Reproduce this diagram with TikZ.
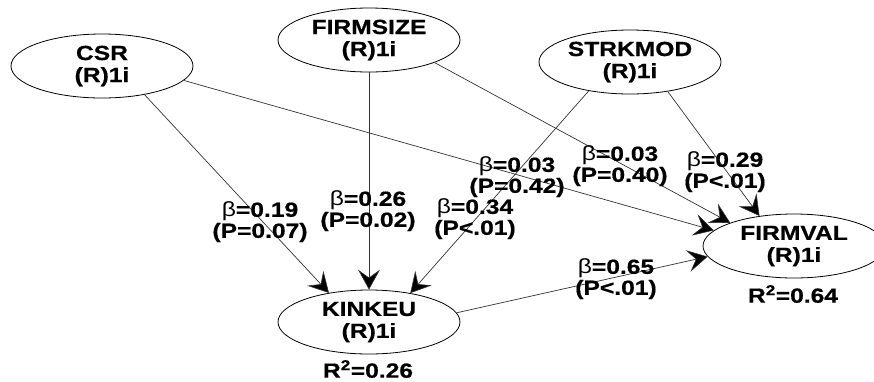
\documentclass[tikz,border=0pt]{standalone}
\usepackage{fontspec}
\setmainfont{Liberation Sans}[FakeStretch=1.2, BoldFeatures={FakeBold=0.6}]
\usetikzlibrary{arrows.meta,shapes.geometric}
\newcommand{\bet}{{\mdseries β}}
\begin{document}
\begin{tikzpicture}[x=1pt,y=-1pt,
  latent/.style={draw, ellipse, minimum width=182pt, minimum height=64pt,
    inner sep=0pt, line width=0.8pt},
  vname/.style={font=\bfseries\fontsize{20.5}{22}\selectfont, align=center, inner sep=0pt},
  coef/.style={font=\bfseries\fontsize{20.5}{21}\selectfont, align=center, inner sep=0pt},
  link/.style={draw=black!80, line width=0.7pt,
    -{Stealth[length=20pt,width=22pt,inset=8pt,fill=black,line width=0.6pt]}},
]
\useasboundingbox (0,0) rectangle (874,381);
\clip (0,0) rectangle (874,381);

% latent variables
\node[latent] (csr) at (102,66) {};
\node[latent] (firmsize) at (369,40) {};
\node[latent] (strkmod) at (630,62) {};
\node[latent] (kinkeu) at (369,322) {};
\node[latent] (firmval) at (794,246) {};

% structural paths
\draw[link] (csr.-34) -- (kinkeu.144);
\draw[link] (firmsize.south) -- (kinkeu.north);
\draw[link] (strkmod.215) -- (kinkeu.35);
\draw[link] (strkmod.-38) -- (firmval.139);
\draw[link] (firmsize.-19) -- (firmval.160);
\draw[link] (csr.-10) -- (firmval.169);
\draw[link] (kinkeu.6.5) -- (firmval.187.5);

% variable names
\node[vname] (csrt) at (csr) {CSR\\(R)1i};
\node[vname] (firmsizet) at (firmsize) {FIRMSIZE\\(R)1i};
\node[vname] (strkmodt) at (strkmod) {STRKMOD\\(R)1i};
\node[vname] (kinkeut) at (kinkeu) {KINKEU\\(R)1i};
\node[vname] (firmvalt) at (firmval) {FIRMVAL\\(R)1i};

% R-squared
\node[vname] (r2k) at (368,369) {R\textsuperscript{2}=0.26};
\node[vname] (r2f) at (793,294) {R\textsuperscript{2}=0.64};

% path coefficients
\node[coef] (c1) at (260,222) {\bet=0.19\\(P=0.07)};
\node[coef] (c2) at (368,211) {\bet=0.26\\(P=0.02)};
\node[coef] (c3) at (475,219) {\bet=0.34\\(P<.01)};
\node[coef] (c4) at (517,177) {\bet=0.03\\(P=0.42)};
\node[coef] (c5) at (620,166) {\bet=0.03\\(P=0.40)};
\node[coef] (c6) at (725,172) {\bet=0.29\\(P<.01)};
\node[coef] (c7) at (616,279) {\bet=0.65\\(P<.01)};
\end{tikzpicture}
\end{document}
